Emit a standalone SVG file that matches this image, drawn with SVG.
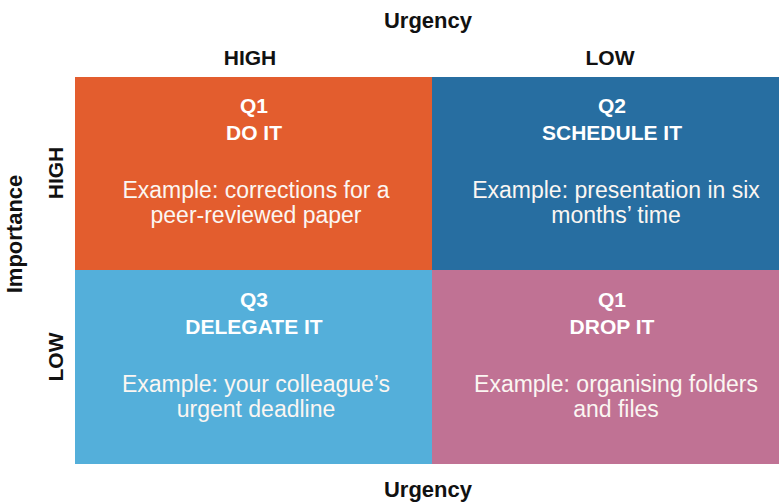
<svg xmlns="http://www.w3.org/2000/svg" width="779" height="504" viewBox="0 0 779 504">
  <style>
    .axis { font-family: "Liberation Sans", Arial, sans-serif; font-weight: bold; font-size: 22px; fill: #111111; text-anchor: middle; }
    .level { font-family: "Liberation Sans", Arial, sans-serif; font-weight: bold; font-size: 21px; fill: #111111; text-anchor: middle; }
    .title { font-family: "Liberation Sans", Arial, sans-serif; font-weight: bold; font-size: 21px; fill: #ffffff; text-anchor: middle; }
    .example { font-family: "Liberation Sans", Arial, sans-serif; font-size: 23px; fill: #fbf6f2; text-anchor: middle; }
  </style>
  <rect x="0" y="0" width="779" height="504" fill="#ffffff"/>

  <!-- axis labels -->
  <g id="axes">
    <text class="axis" x="428" y="28">Urgency</text>
    <text class="axis" x="428" y="497">Urgency</text>
    <text class="axis" transform="translate(22,234) rotate(-90)">Importance</text>
    <text class="level" x="250" y="65">HIGH</text>
    <text class="level" x="610" y="65">LOW</text>
    <text class="level" transform="translate(63,173) rotate(-90)">HIGH</text>
    <text class="level" transform="translate(63,357) rotate(-90)">LOW</text>
  </g>

  <!-- quadrant Q1: high importance, high urgency -->
  <g id="q1">
    <rect x="75" y="77" width="357" height="193" fill="#e35d2e"/>
    <text class="title" x="254" y="113">Q1</text>
    <text class="title" x="254" y="140">DO IT</text>
    <text class="example" x="256" y="198">Example: corrections for a</text>
    <text class="example" x="256" y="223">peer-reviewed paper</text>
  </g>

  <!-- quadrant Q2: high importance, low urgency -->
  <g id="q2">
    <rect x="432" y="77" width="347" height="193" fill="#276ea1"/>
    <text class="title" x="612" y="113">Q2</text>
    <text class="title" x="612" y="140">SCHEDULE IT</text>
    <text class="example" x="616" y="198">Example: presentation in six</text>
    <text class="example" x="616" y="223">months’ time</text>
  </g>

  <!-- quadrant Q3: low importance, high urgency -->
  <g id="q3">
    <rect x="75" y="270" width="357" height="194" fill="#54afda"/>
    <text class="title" x="254" y="307">Q3</text>
    <text class="title" x="254" y="334">DELEGATE IT</text>
    <text class="example" x="256" y="392">Example: your colleague’s</text>
    <text class="example" x="256" y="417">urgent deadline</text>
  </g>

  <!-- quadrant Q4: low importance, low urgency -->
  <g id="q4">
    <rect x="432" y="270" width="347" height="194" fill="#c07294"/>
    <text class="title" x="612" y="307">Q1</text>
    <text class="title" x="612" y="334">DROP IT</text>
    <text class="example" x="616" y="392">Example: organising folders</text>
    <text class="example" x="616" y="417">and files</text>
  </g>

  <g id="connectors"></g>
</svg>
